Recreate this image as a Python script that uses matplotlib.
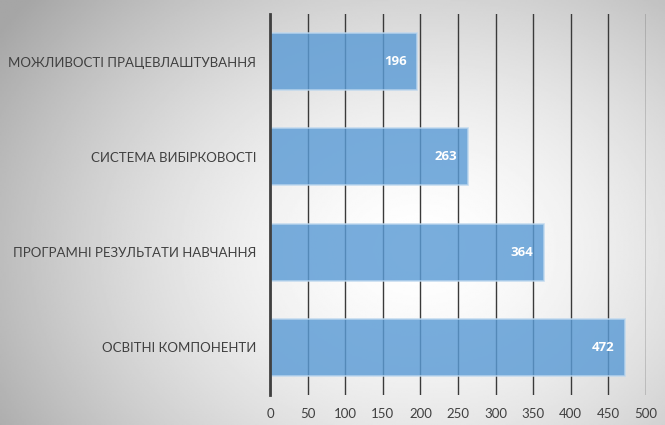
import matplotlib.pyplot as plt
import numpy as np

categories = [
    "МОЖЛИВОСТІ ПРАЦЕВЛАШТУВАННЯ",
    "СИСТЕМА ВИБІРКОВОСТІ",
    "ПРОГРАМНІ РЕЗУЛЬТАТИ НАВЧАННЯ",
    "ОСВІТНІ КОМПОНЕНТИ",
]
values = [196, 263, 364, 472]
x_ticks = [0, 50, 100, 150, 200, 250, 300, 350, 400, 450, 500]

plt.rcParams["font.family"] = ["Lato", "DejaVu Sans"]

fig = plt.figure(figsize=(6.65, 4.25), dpi=100)

# radial grey-to-white background
bg = fig.add_axes([0, 0, 1, 1], zorder=-10)
gx, gy = np.meshgrid(np.linspace(0, 665, 400), np.linspace(0, 425, 260))
r = np.sqrt(((gx - 420) / 420) ** 2 + ((gy - 250) / 330) ** 2)
shade = 1.0 - 0.26 * np.clip(r, 0, 1.2) ** 1.6
bg.imshow(shade, cmap="gray", vmin=0, vmax=1, extent=[0, 665, 425, 0], aspect="auto")
bg.axis("off")

ax = fig.add_axes([270 / 665, 30 / 425, 376 / 665, 381 / 425])
ax.patch.set_alpha(0)

y = np.arange(len(categories))
ax.barh(y, values, height=0.6, color="#5b9bd5", alpha=0.82,
        edgecolor="#bdd7ee", linewidth=1.2, zorder=3)

for yi, v in zip(y, values):
    ax.text(v - 11 * 500 / 376, yi, str(v), ha="right", va="center",
            color="white", fontsize=9.5, fontweight="bold",
            family=["Open Sans", "DejaVu Sans"], zorder=4)

ax.set_xlim(0, 500)
ax.set_ylim(len(categories) - 0.5, -0.5)
ax.set_xticks(x_ticks)
ax.set_yticks(y)
ax.set_yticklabels(categories)
ax.grid(axis="x", color="#3a3a3a", linewidth=1.0, zorder=1)
ax.tick_params(axis="both", length=0, labelsize=9.5, colors="#404040")
ax.tick_params(axis="x", pad=9)
ax.tick_params(axis="y", pad=10)
for s in ["top", "right", "bottom"]:
    ax.spines[s].set_visible(False)
ax.spines["left"].set_color("#404040")
ax.spines["left"].set_linewidth(2)
ax.spines["left"].set_zorder(5)

fig.savefig("out.png", dpi=100)
